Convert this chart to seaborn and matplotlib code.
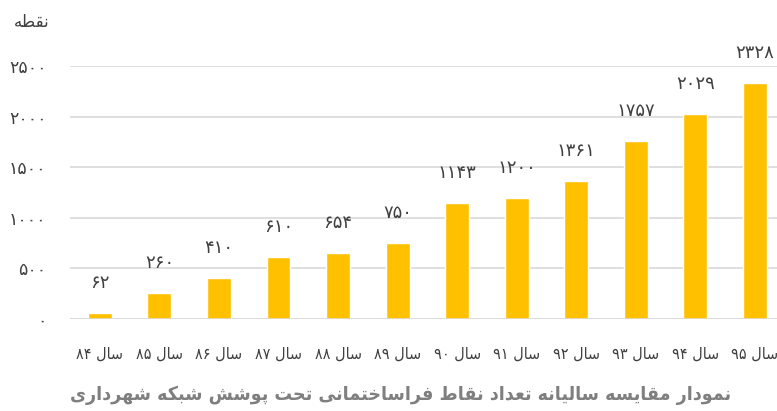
import matplotlib
matplotlib.use("Agg")
import matplotlib.pyplot as plt
import seaborn as sns
import pandas as pd

# data
years = ["۸۴", "۸۵", "۸۶", "۸۷", "۸۸", "۸۹", "۹۰", "۹۱", "۹۲", "۹۳", "۹۴", "۹۵"]
points = [62, 260, 410, 610, 654, 750, 1143, 1200, 1361, 1757, 2029, 2328]
y_ticks = [0, 500, 1000, 1500, 2000, 2500]
year_word = "سال"
y_title = "نقطه"
chart_title = "نمودار مقایسه سالیانه تعداد نقاط فراساختمانی تحت پوشش شبکه شهرداری"

FA_DIGITS = "۰۱۲۳۴۵۶۷۸۹"

# presentation forms: isolated, final, initial, medial
FORMS = {
    "ا": ("\uFE8D", "\uFE8E"), "د": ("\uFEA9", "\uFEAA"), "ر": ("\uFEAD", "\uFEAE"),
    "و": ("\uFEED", "\uFEEE"),
    "ب": ("\uFE8F", "\uFE90", "\uFE91", "\uFE92"), "پ": ("\uFB56", "\uFB57", "\uFB58", "\uFB59"),
    "ت": ("\uFE95", "\uFE96", "\uFE97", "\uFE98"), "ح": ("\uFEA1", "\uFEA2", "\uFEA3", "\uFEA4"),
    "خ": ("\uFEA5", "\uFEA6", "\uFEA7", "\uFEA8"), "س": ("\uFEB1", "\uFEB2", "\uFEB3", "\uFEB4"),
    "ش": ("\uFEB5", "\uFEB6", "\uFEB7", "\uFEB8"), "ط": ("\uFEC1", "\uFEC2", "\uFEC3", "\uFEC4"),
    "ع": ("\uFEC9", "\uFECA", "\uFECB", "\uFECC"), "ف": ("\uFED1", "\uFED2", "\uFED3", "\uFED4"),
    "ق": ("\uFED5", "\uFED6", "\uFED7", "\uFED8"), "ک": ("\uFB8E", "\uFB8F", "\uFB90", "\uFB91"),
    "ل": ("\uFEDD", "\uFEDE", "\uFEDF", "\uFEE0"), "م": ("\uFEE1", "\uFEE2", "\uFEE3", "\uFEE4"),
    "ن": ("\uFEE5", "\uFEE6", "\uFEE7", "\uFEE8"), "ه": ("\uFEE9", "\uFEEA", "\uFEEB", "\uFEEC"),
    "ی": ("\uFBFC", "\uFBFD", "\uFBFE", "\uFBFF"),
}


def shape(text):
    """Join Persian letters and reverse them, since matplotlib lays text out left to right."""
    out = []
    for i, ch in enumerate(text):
        if ch not in FORMS:
            out.append(ch)
            continue
        prev = text[i - 1] if i > 0 else ""
        nxt = text[i + 1] if i + 1 < len(text) else ""
        join_prev = prev in FORMS and len(FORMS[prev]) == 4
        join_next = len(FORMS[ch]) == 4 and nxt in FORMS
        f = FORMS[ch]
        if join_prev and join_next:
            out.append(f[3])
        elif join_prev:
            out.append(f[1])
        elif join_next:
            out.append(f[2])
        else:
            out.append(f[0])
    return "".join(reversed(out))


def fa_num(n):
    return "".join(FA_DIGITS[int(d)] for d in str(n))


sns.set_style("white")
plt.rcParams["font.family"] = ["DejaVu Sans"]

df = pd.DataFrame({"year": [y + " " + shape(year_word) for y in years], "points": points})

fig = plt.figure(figsize=(7.77, 4.11), dpi=100)
ax = fig.add_axes([70 / 777, 1 - 319 / 411, 1 - 70 / 777, (319 - 66) / 411])

sns.barplot(data=df, x="year", y="points", color="#FFC000", width=0.4, saturation=1, ax=ax)

ax.set_ylim(0, 2500)
ax.set_xlim(-0.5, 11.37)
ax.set_yticks(y_ticks)
ax.set_yticklabels([fa_num(t) for t in y_ticks], fontsize=12.5, color="#404040")
ax.tick_params(axis="y", length=0, pad=17)
ax.tick_params(axis="x", length=0, pad=20, labelsize=11.5, labelcolor="#404040")
for lbl in ax.get_xticklabels():
    lbl.set_fontstretch("condensed")
ax.set_xlabel("")
ax.set_ylabel("")
ax.yaxis.grid(True, color="#d9d9d9", linewidth=1.2)
ax.set_axisbelow(True)
for s in ax.spines.values():
    s.set_visible(False)
ax.axhline(0, color="#d9d9d9", linewidth=1.8)

for i, v in enumerate(points):
    ax.annotate(fa_num(v), (i, v), xytext=(0, 21.6), textcoords="offset points",
                ha="center", va="center", fontsize=13, color="#404040", annotation_clip=False)

fig.text(32 / 777, 1 - 22 / 411, shape(y_title), ha="center", va="center", fontsize=12, color="#404040")
fig.text(401 / 777, 1 - 395 / 411, shape(chart_title), ha="center", va="center",
         fontsize=14, fontweight="bold", fontstretch="condensed", color="#7f7f7f")

fig.savefig("out.png", dpi=100)
